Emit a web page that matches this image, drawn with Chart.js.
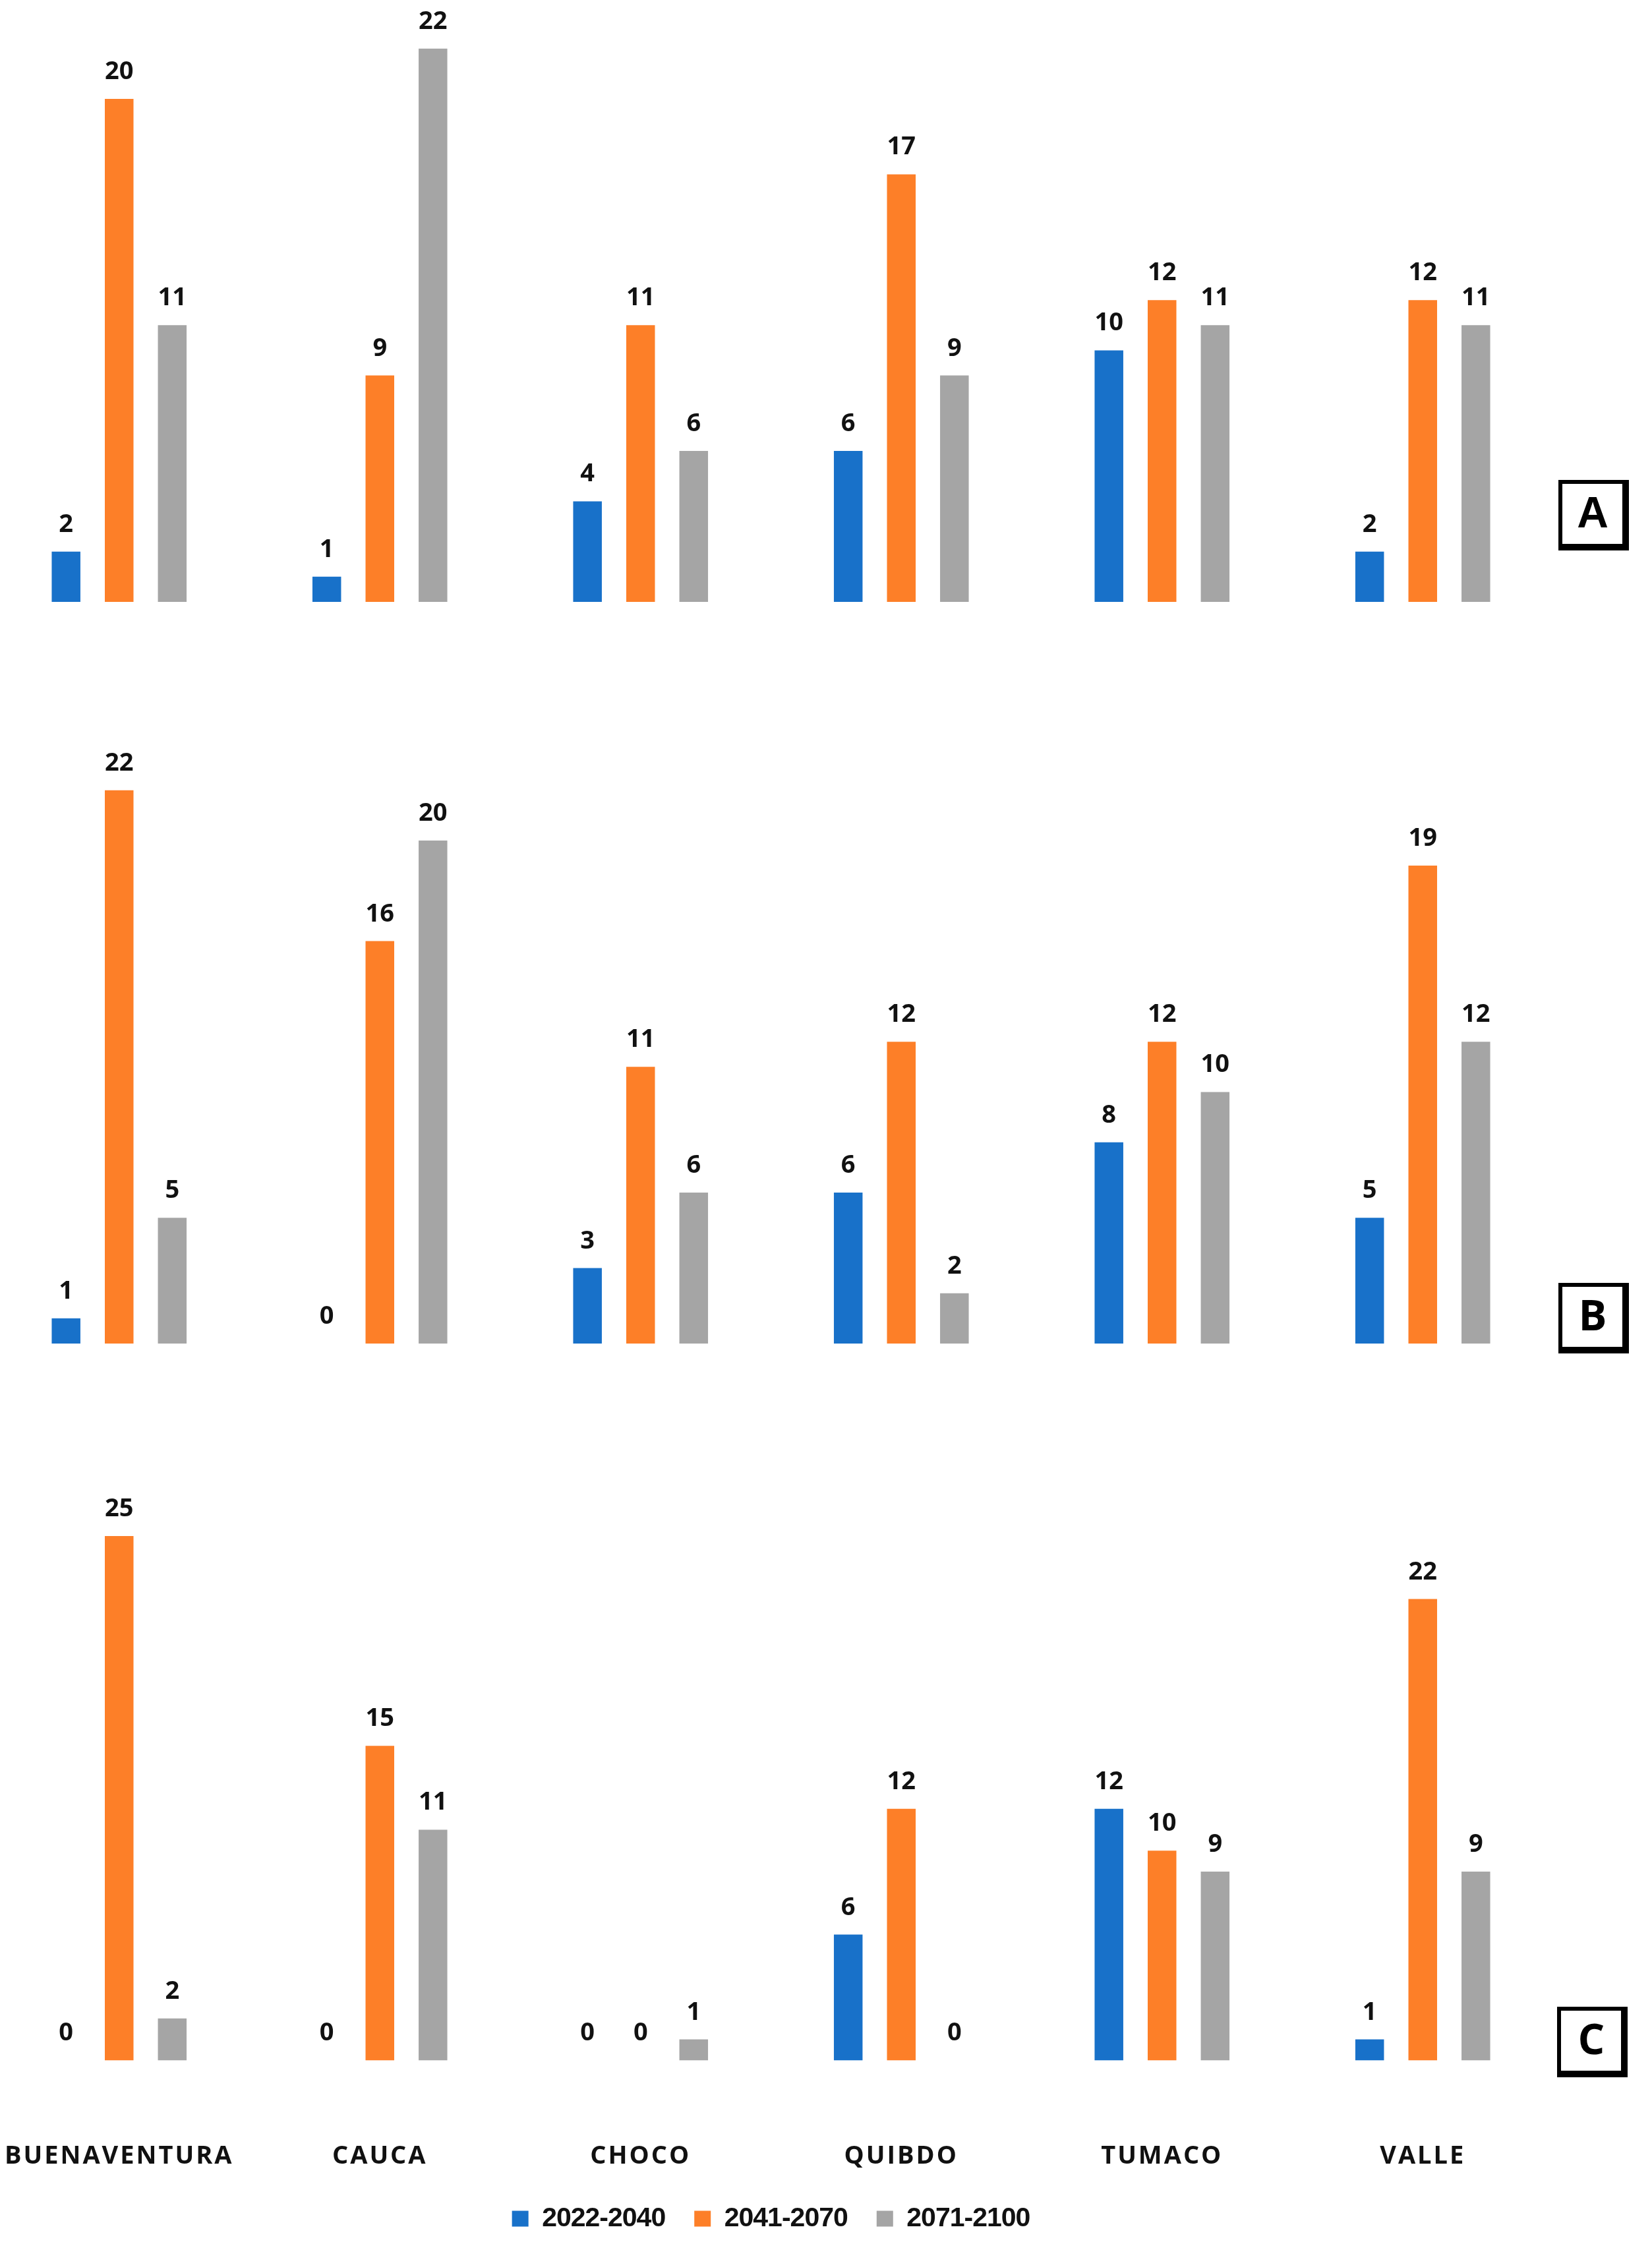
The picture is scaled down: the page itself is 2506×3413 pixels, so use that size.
<!DOCTYPE html>
<html>
<head>
<meta charset="utf-8">
<script src="https://cdn.jsdelivr.net/npm/chart.js@4.4.1/dist/chart.umd.min.js"></script>
<style>
  html, body { margin: 0; padding: 0; background: #fff; overflow: hidden; width: 2506px; height: 3413px; }
  canvas { position: absolute; left: -17px; }
</style>
</head>
<body>
<canvas id="chartA" width="2523" height="913" style="top:0px"></canvas>
<canvas id="chartB" width="2523" height="1040" style="top:1125px"></canvas>
<canvas id="chartC" width="2523" height="1196" style="top:2200px"></canvas>
<script>
const categories = ['BUENAVENTURA', 'CAUCA', 'CHOCO', 'QUIBDO', 'TUMACO', 'VALLE'];
const periods = ['2022-2040', '2041-2070', '2071-2100'];
const colors = ['#1871c9', '#fd7f28', '#a5a5a5'];

// panel A
const a2022 = [2, 1, 4, 6, 10, 2];
const a2041 = [20, 9, 11, 17, 12, 12];
const a2071 = [11, 22, 6, 9, 11, 11];
// panel B
const b2022 = [1, 0, 3, 6, 8, 5];
const b2041 = [22, 16, 11, 12, 12, 19];
const b2071 = [5, 20, 6, 2, 10, 12];
// panel C
const c2022 = [0, 0, 0, 6, 12, 1];
const c2041 = [25, 15, 0, 12, 10, 22];
const c2071 = [2, 11, 1, 0, 9, 9];

// numbers above bars; also switches letter spacing for legend (before) and x labels (after)
const valueLabels = {
  id: 'valueLabels',
  beforeUpdate(chart) { chart.ctx.letterSpacing = '-1px'; },
  afterUpdate(chart) { chart.ctx.letterSpacing = '0px'; },
  beforeDraw(chart) { chart.ctx.letterSpacing = '-1px'; },
  afterDatasetsDraw(chart) {
    const ctx = chart.ctx;
    ctx.save();
    ctx.letterSpacing = '0px';
    ctx.font = 'bold 38px "Open Sans"';
    ctx.fillStyle = '#111';
    ctx.textAlign = 'center';
    ctx.textBaseline = 'alphabetic';
    chart.data.datasets.forEach((ds, i) => {
      chart.getDatasetMeta(i).data.forEach((bar, j) => {
        ctx.fillText(ds.data[j], bar.x, bar.y - 30);
      });
    });
    ctx.restore();
    ctx.letterSpacing = '3px';
  },
  afterDraw(chart) { chart.ctx.letterSpacing = '0px'; }
};

// boxed panel letter
const panelBox = {
  id: 'panelBox',
  afterDraw(chart, args, opts) {
    const ctx = chart.ctx;
    const { x, y, text, font } = opts;
    ctx.save();
    ctx.fillStyle = '#000';
    ctx.fillRect(x, y, 107, 107);
    ctx.fillStyle = '#fff';
    ctx.fillRect(x + 6, y + 6, 91, 91);
    ctx.fillStyle = '#000';
    ctx.font = font;
    ctx.textAlign = 'center';
    ctx.textBaseline = 'middle';
    ctx.fillText(text, x + 52, y + 54);
    ctx.restore();
  }
};

function makeChart(id, series, yMax, withAxis, bottomPad, box) {
  return new Chart(document.getElementById(id), {
    type: 'bar',
    data: {
      labels: categories,
      datasets: series.map((d, i) => ({
        label: periods[i],
        data: d,
        backgroundColor: colors[i],
        borderWidth: 0
      }))
    },
    options: {
      responsive: false,
      animation: false,
      devicePixelRatio: 1,
      layout: { padding: { left: 0, right: 150, top: 0, bottom: bottomPad } },
      datasets: { bar: { categoryPercentage: 0.611, barPercentage: 0.54 } },
      scales: {
        x: {
          display: withAxis,
          grid: { display: false, drawTicks: true, tickLength: 116 },
          border: { display: false },
          ticks: {
            z: 1,
            padding: 7,
            color: '#111',
            autoSkip: false,
            maxRotation: 0,
            font: { family: '"Open Sans"', size: 38, weight: 'bold' }
          }
        },
        y: { display: false, min: 0, max: yMax }
      },
      plugins: {
        legend: {
          display: withAxis,
          position: 'bottom',
          labels: {
            boxWidth: 25,
            boxHeight: 24,
            padding: 44,
            color: '#111',
            font: { family: '"Liberation Sans"', size: 41, weight: 'bold' }
          }
        },
        tooltip: { enabled: false },
        panelBox: box
      }
    },
    plugins: [valueLabels, panelBox]
  });
}

makeChart('chartA', [a2022, a2041, a2071], 23.93, false, 0,
  { x: 2381, y: 728, text: 'A', font: 'bold 66px "Liberation Sans"' });
makeChart('chartB', [b2022, b2041, b2071], 23.93, false, 127,
  { x: 2381, y: 821, text: 'B', font: 'bold 64px "Open Sans"' });
makeChart('chartC', [c2022, c2041, c2071], 29.09, true, 0,
  { x: 2379, y: 844, text: 'C', font: 'bold 64px "Open Sans"' });
</script>
</body>
</html>
